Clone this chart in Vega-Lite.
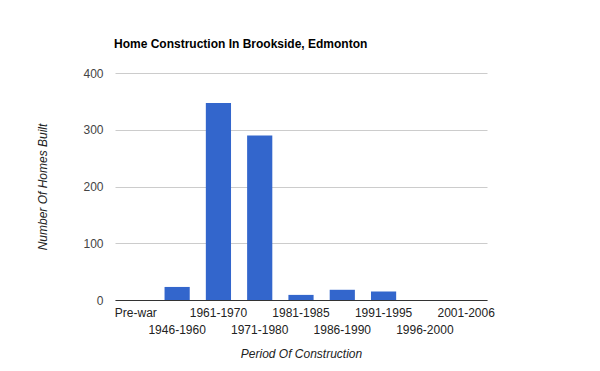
{
  "$schema": "https://vega.github.io/schema/vega-lite/v6.json",
  "width": 372,
  "height": 227,
  "autosize": "none",
  "padding": {"left": 115, "top": 73, "right": 113, "bottom": 71},
  "background": "white",
  "title": {
    "text": "Home Construction In Brookside, Edmonton",
    "anchor": "start",
    "frame": "group",
    "font": "Liberation Sans",
    "fontSize": 12,
    "fontWeight": "bold",
    "color": "#000000",
    "offset": 16,
    "dx": -1
  },
  "data": {
    "values": [
      {"period": "Pre-war", "homes": 0},
      {"period": "1946-1960", "homes": 23},
      {"period": "1961-1970", "homes": 347},
      {"period": "1971-1980", "homes": 290},
      {"period": "1981-1985", "homes": 9},
      {"period": "1986-1990", "homes": 18},
      {"period": "1991-1995", "homes": 15},
      {"period": "1996-2000", "homes": 0},
      {"period": "2001-2006", "homes": 0}
    ]
  },
  "mark": {"type": "bar", "color": "#3366cc"},
  "encoding": {
    "x": {
      "field": "period",
      "type": "nominal",
      "sort": null,
      "scale": {"paddingInner": 0.39, "paddingOuter": 0.2},
      "axis": {
        "title": "Period Of Construction",
        "titleFont": "Liberation Sans",
        "titleFontSize": 12,
        "titleFontStyle": "italic",
        "titleFontWeight": "normal",
        "titleColor": "#222222",
        "titlePadding": 13,
        "labelFont": "Liberation Sans",
        "labelFontSize": 12,
        "labelColor": "#222222",
        "labelAngle": 0,
        "labelOverlap": false,
        "labelPadding": 7,
        "labelLineHeight": 17,
        "labelExpr": "indexof(['1946-1960','1971-1980','1986-1990','1996-2000'], datum.label) >= 0 ? ['', datum.label] : datum.label",
        "ticks": false,
        "domainColor": "#333333",
        "domainWidth": 1,
        "grid": false
      }
    },
    "y": {
      "field": "homes",
      "type": "quantitative",
      "scale": {"domain": [0, 400], "nice": false},
      "axis": {
        "title": "Number Of Homes Built",
        "titleFont": "Liberation Sans",
        "titleFontSize": 12,
        "titleFontStyle": "italic",
        "titleFontWeight": "normal",
        "titleColor": "#222222",
        "titlePadding": 33,
        "values": [0, 100, 200, 300, 400],
        "labelFont": "Liberation Sans",
        "labelFontSize": 12,
        "labelColor": "#444444",
        "labelPadding": 12,
        "ticks": false,
        "domain": false,
        "gridColor": "#cccccc",
        "gridWidth": 1
      }
    }
  },
  "config": {"view": {"stroke": null}}
}
